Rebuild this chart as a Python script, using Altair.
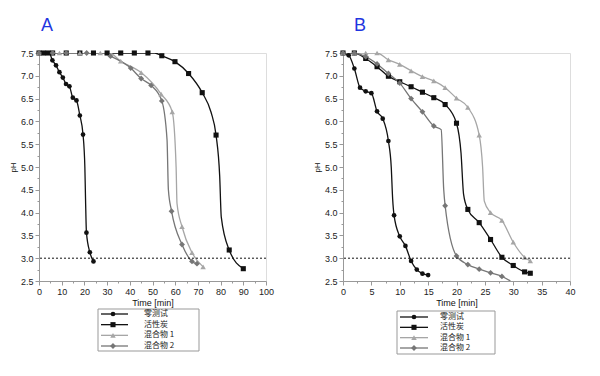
import altair as alt
import pandas as pd

# ---------------- data ----------------
labels = ["零测试", "活性炭", "混合物 1", "混合物 2"]
colors = ["#111111", "#111111", "#a6a6a6", "#767676"]
shapes = ["circle", "square", "triangle-up", "diamond"]
sizes = [22, 34, 22, 20]

# Panel A (markers)
A_zero_t = [0, 5.9, 7.5, 9.0, 10.5, 11.9, 13.4, 14.9, 16.5, 18.0, 19.4, 20.9, 22.4, 24.0]
A_zero_ph = [7.5, 7.34, 7.23, 7.08, 6.96, 6.82, 6.77, 6.52, 6.46, 6.13, 5.71, 3.56, 3.13, 2.93]
A_zero_bend_t = [4.5, 20.2, 20.5]
A_zero_bend_ph = [7.5, 5.0, 4.3]

A_carb_t = [0, 2, 4, 6, 12, 18, 24, 30, 36, 42, 48, 54.1, 59.9, 65.9, 71.9, 78.0, 83.8, 90.0]
A_carb_ph = [7.5, 7.5, 7.5, 7.5, 7.5, 7.5, 7.5, 7.5, 7.5, 7.5, 7.5, 7.44, 7.31, 7.05, 6.63, 5.70, 3.18, 2.77]
A_carb_bend_t = [51.0, 75.8, 79.6, 80.3]
A_carb_bend_ph = [7.5, 6.2, 4.8, 3.9]

A_mix1_t = [0, 9, 18, 27, 36.0, 45.0, 53.8, 58.7, 63.0, 67.4, 72.3]
A_mix1_ph = [7.5, 7.5, 7.5, 7.5, 7.32, 7.07, 6.6, 6.21, 3.69, 3.12, 2.81]
A_mix1_bend_t = [31.0, 60.4, 60.8]
A_mix1_bend_ph = [7.5, 5.0, 4.2]

A_mix2_t = [0, 6, 12, 21, 31.5, 40.4, 45.0, 49.4, 54.1, 58.4, 63.0, 67.4, 69.6]
A_mix2_ph = [7.5, 7.5, 7.5, 7.5, 7.43, 7.17, 6.94, 6.79, 6.45, 4.03, 3.30, 2.93, 2.88]
A_mix2_bend_t = [28.0, 56.4, 57.0]
A_mix2_bend_ph = [7.5, 5.6, 4.5]

# Panel B (markers)
B_zero_t = [0, 1, 2, 3, 4, 5, 6, 7, 8, 9, 10, 11, 12, 13, 14, 15]
B_zero_ph = [7.5, 7.45, 7.16, 6.74, 6.66, 6.62, 6.22, 6.06, 5.57, 3.94, 3.48, 3.27, 2.94, 2.75, 2.66, 2.63]
B_zero_bend_t = [8.5, 8.75]
B_zero_bend_ph = [5.0, 4.3]

B_carb_t = [0, 2, 4, 6, 8, 10, 12, 14, 16, 18, 20, 22, 24, 26, 28, 30, 32, 33]
B_carb_ph = [7.5, 7.5, 7.38, 7.2, 6.99, 6.87, 6.76, 6.64, 6.52, 6.37, 5.96, 4.07, 3.78, 3.41, 3.02, 2.84, 2.70, 2.67]
B_carb_bend_t = [20.8, 21.25]
B_carb_bend_ph = [5.3, 4.4]

B_mix1_t = [0, 2, 4, 6, 8, 10, 12, 14, 16, 18, 20, 22, 24, 26, 28, 30, 32, 33]
B_mix1_ph = [7.5, 7.5, 7.5, 7.5, 7.35, 7.25, 7.11, 6.98, 6.89, 6.74, 6.51, 6.31, 5.70, 4.0, 3.83, 3.35, 3.02, 2.94]
B_mix1_bend_t = [24.6, 24.9]
B_mix1_bend_ph = [5.0, 4.25]

B_mix2_t = [0, 2, 4, 6, 8, 10, 12, 14, 16, 18, 20, 22, 24, 26, 28]
B_mix2_ph = [7.5, 7.5, 7.42, 7.26, 7.05, 6.84, 6.5, 6.21, 5.9, 4.15, 3.05, 2.86, 2.76, 2.68, 2.6]
B_mix2_bend_t = [17.3, 17.75, 29.5]
B_mix2_bend_ph = [5.82, 4.5, 2.5]

threshold_ph = [3.0]

A_x_domain = [0, 100]
B_x_domain = [0, 40]
y_domain = [2.5, 7.5]


def build(series):
    marks, lines = [], []
    for lab, (t, ph, bt, bph) in zip(labels, series):
        for a, b in zip(t, ph):
            marks.append({"series": lab, "t": a, "ph": b})
            lines.append({"series": lab, "t": a, "ph": b})
        for a, b in zip(bt, bph):
            lines.append({"series": lab, "t": a, "ph": b})
    return pd.DataFrame(marks), pd.DataFrame(lines)


A_marks, A_lines = build([
    (A_zero_t, A_zero_ph, A_zero_bend_t, A_zero_bend_ph),
    (A_carb_t, A_carb_ph, A_carb_bend_t, A_carb_bend_ph),
    (A_mix1_t, A_mix1_ph, A_mix1_bend_t, A_mix1_bend_ph),
    (A_mix2_t, A_mix2_ph, A_mix2_bend_t, A_mix2_bend_ph),
])
B_marks, B_lines = build([
    (B_zero_t, B_zero_ph, B_zero_bend_t, B_zero_bend_ph),
    (B_carb_t, B_carb_ph, B_carb_bend_t, B_carb_bend_ph),
    (B_mix1_t, B_mix1_ph, B_mix1_bend_t, B_mix1_bend_ph),
    (B_mix2_t, B_mix2_ph, B_mix2_bend_t, B_mix2_bend_ph),
])

FONT = "Liberation Sans"
color_scale = alt.Scale(domain=labels, range=colors)
shape_scale = alt.Scale(domain=labels, range=shapes)
size_scale = alt.Scale(domain=labels, range=sizes)
W, H = 227, 228


def panel(marks, lines, xdom, xstep, title, dx):
    n = int(round((xdom[1] - xdom[0]) / (xstep / 2)))
    xvals = [xdom[0] + i * xstep / 2 for i in range(n + 1)]
    yvals = [2.5 + i * 0.25 for i in range(21)]
    xmajor = f"abs(datum.value/{xstep} - round(datum.value/{xstep})) < 0.001"
    ymajor = "abs(datum.value*2 - round(datum.value*2)) < 0.001"
    xaxis = alt.Axis(
        values=xvals, title="Time [min]", grid=False, labelOverlap=False,
        labelExpr=f"{xmajor} ? datum.label : ''",
        tickSize={"condition": {"test": xmajor, "value": 4}, "value": 2},
        labelFontSize=9, titleFontSize=9, titleFontWeight="normal", titlePadding=2,
        labelPadding=2, domainColor="#999", tickColor="#999", labelColor="#222", titleColor="#111",
        labelFont=FONT, titleFont=FONT, labelFlush=False,
    )
    yaxis = alt.Axis(
        values=yvals, title="pH", grid=False, labelOverlap=False,
        labelExpr=f"{ymajor} ? format(datum.value, '.1f') : ''",
        tickSize={"condition": {"test": ymajor, "value": 4}, "value": 2},
        labelFontSize=9, titleFontSize=8, titleFontWeight="normal", titlePadding=3,
        labelPadding=2, domainColor="#999", tickColor="#999", labelColor="#222", titleColor="#111",
        labelFont=FONT, titleFont=FONT, labelFlush=False,
    )
    x = alt.X("t:Q", scale=alt.Scale(domain=xdom, nice=False), axis=xaxis)
    y = alt.Y("ph:Q", scale=alt.Scale(domain=y_domain, nice=False), axis=yaxis)
    line = alt.Chart(lines).mark_line(interpolate="monotone", strokeWidth=1.3, clip=True).encode(
        x=x, y=y,
        color=alt.Color("series:N", scale=color_scale, legend=None),
        detail="series:N", order="t:Q",
    )
    pts = alt.Chart(marks).mark_point(filled=True, opacity=1).encode(
        x=x, y=y,
        color=alt.Color("series:N", scale=color_scale, legend=None),
        shape=alt.Shape("series:N", scale=shape_scale, legend=None),
        size=alt.Size("series:N", scale=size_scale, legend=None),
    )
    rule = alt.Chart(pd.DataFrame({"ph": threshold_ph})).mark_rule(
        color="#111", strokeDash=[2, 2], strokeWidth=1
    ).encode(y=y)
    return alt.layer(line, pts, rule).properties(
        width=W, height=H,
        title=alt.TitleParams(title, anchor="start", frame="group", color="#1f36e0",
                              fontSize=18, fontWeight="normal", font=FONT, offset=14, dx=dx),
    )


def legend(box_x, box_w, box_h, line_x, marker_x, text_x, rows):
    df = pd.DataFrame({"series": labels})
    yenc = alt.Y("series:N", sort=labels, axis=None,
                 scale=alt.Scale(type="point", domain=labels, range=rows, padding=0))
    box = alt.Chart(pd.DataFrame({"k": [0]})).mark_rect(
        filled=False, stroke="#999", strokeWidth=1
    ).encode(x=alt.value(box_x), x2=alt.value(box_x + box_w), y=alt.value(0), y2=alt.value(box_h))
    ln = alt.Chart(df).mark_rule(strokeWidth=1.3).encode(
        x=alt.value(line_x[0]), x2=alt.value(line_x[1]), y=yenc,
        color=alt.Color("series:N", scale=color_scale, legend=None),
    )
    pt = alt.Chart(df).mark_point(filled=True, opacity=1).encode(
        x=alt.value(marker_x), y=yenc,
        color=alt.Color("series:N", scale=color_scale, legend=None),
        shape=alt.Shape("series:N", scale=shape_scale, legend=None),
        size=alt.Size("series:N", scale=size_scale, legend=None),
    )
    tx = alt.Chart(df).mark_text(align="left", baseline="middle", fontSize=8,
                                 font="Noto Sans CJK SC", color="#222").encode(
        x=alt.value(text_x), y=yenc, text="series:N",
    )
    return alt.layer(box, ln, pt, tx).properties(
        width=W, height=box_h, view=alt.ViewBackground(stroke="transparent")
    )


pA = panel(A_marks, A_lines, A_x_domain, 10, "A", 2)
pB = panel(B_marks, B_lines, B_x_domain, 5, "B", 11)
lA = legend(59, 101, 42, (62, 89), 74, 105, [5, 37])
lB = legend(54, 98, 43, (57, 85), 71, 97, [6, 37])

colA = alt.vconcat(pA, lA, spacing=0)
colB = alt.vconcat(pB, lB, spacing=2)

chart = alt.hconcat(colA, colB, spacing=37).properties(
    padding={"left": 0, "top": 8, "right": 5, "bottom": 5}
).configure_view(stroke="#bbbbbb", strokeWidth=1.5).configure(font=FONT)

chart.save("out.html", embed_options={"renderer": "svg", "actions": False})
